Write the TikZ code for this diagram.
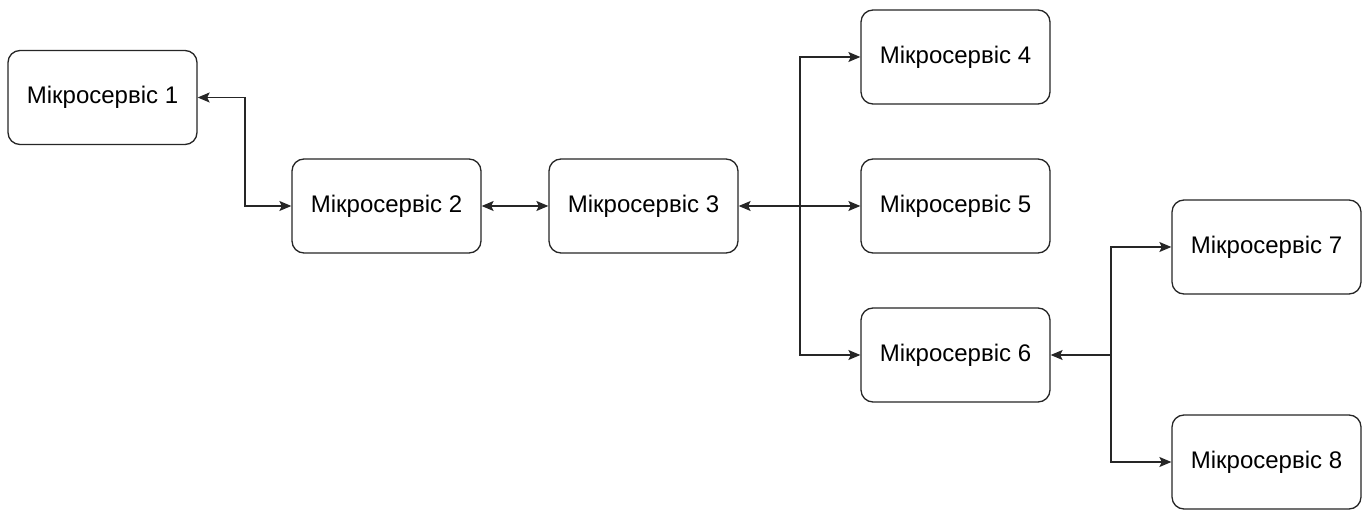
\documentclass[tikz,border=0pt]{standalone}
\usepackage{fontspec}
\setmainfont{Liberation Sans}
\usetikzlibrary{arrows.meta}
\begin{document}
\begin{tikzpicture}[x=1pt,y=-1pt,
  svc/.style={draw=black!85, line width=1.3pt, rounded corners=12pt,
    minimum width=189pt, minimum height=94pt, inner sep=0pt,
    font=\fontsize{24}{28}\selectfont, fill=white},
  link/.style={draw=black!85, line width=1.3pt},
  tip/.style={-{Stealth[length=12pt,width=10pt,inset=2.5pt]}},
  tips/.style={{Stealth[length=12pt,width=10pt,inset=2.5pt]}-{Stealth[length=12pt,width=10pt,inset=2.5pt]}}]
\useasboundingbox (0,0) rectangle (1368,510);
\node[svc] (m1) at (102.5,97.5) {Мікросервіс 1};
\node[svc] (m2) at (386.5,206) {Мікросервіс 2};
\node[svc] (m3) at (643.5,206) {Мікросервіс 3};
\node[svc] (m4) at (955.5,57) {Мікросервіс 4};
\node[svc] (m5) at (955.5,206) {Мікросервіс 5};
\node[svc] (m6) at (955.5,355) {Мікросервіс 6};
\node[svc] (m7) at (1266.5,247) {Мікросервіс 7};
\node[svc] (m8) at (1266.5,462) {Мікросервіс 8};
\coordinate (j3) at (800,206);
\coordinate (j6) at (1111,355);
% left chain
\draw[link,tips] (m1.east) -- (245,97.5) -- (245,206) -- (m2.west);
\draw[link,tips] (m2.east) -- (m3.west);
% fan-out from service 3
\draw[link,tip] (j3) -- (m3.east);
\draw[link,tip] (j3) |- (m4.west);
\draw[link,tip] (j3) -- (m5.west);
\draw[link,tip] (j3) |- (m6.west);
% fan-out from service 6
\draw[link,tip] (j6) -- (m6.east);
\draw[link,tip] (j6) |- (m7.west);
\draw[link,tip] (j6) |- (m8.west);
\end{tikzpicture}
\end{document}
